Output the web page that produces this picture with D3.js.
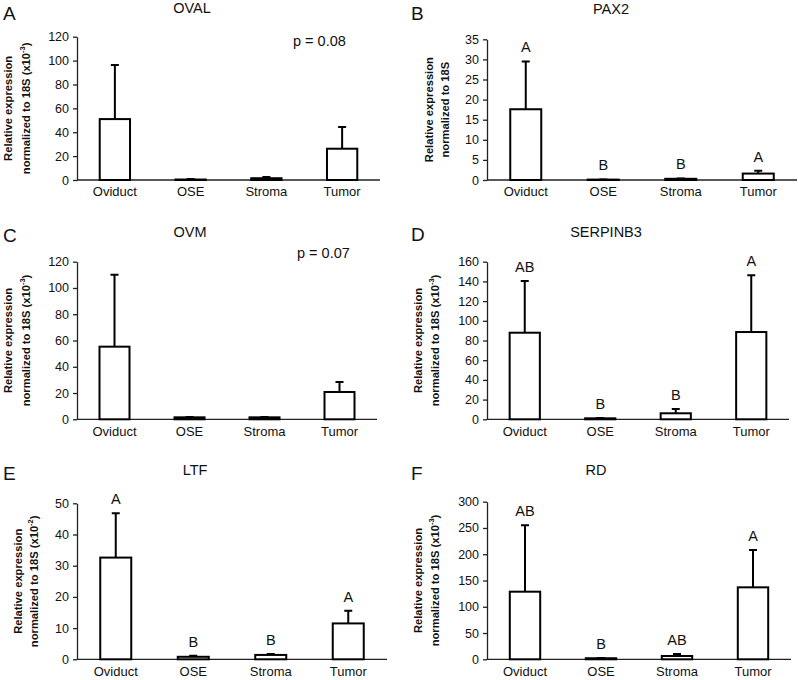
<!DOCTYPE html>
<html>
<head>
<meta charset="utf-8">
<script src="https://cdn.jsdelivr.net/npm/d3@7"></script>
<style>
  html, body { margin: 0; padding: 0; background: #fff; }
  svg { display: block; font-family: "Liberation Sans", Arial, Helvetica, sans-serif; }
</style>
</head>
<body>
<svg id="chart" width="798" height="680"></svg>
<script>
// ---- data ----
const categories = ["Oviduct", "OSE", "Stroma", "Tumor"];
const panelLetters = ["A", "B", "C", "D", "E", "F"];
const genes = ["OVAL", "PAX2", "OVM", "SERPINB3", "LTF", "RD"];
const exponents = ["-3", null, "-3", "-3", "-2", "-3"];
const pValues = ["p = 0.08", null, "p = 0.07", null, null, null];

const ovalMean = [51, 0.4, 1.5, 26.2];
const ovalSem = [45.3, 0.4, 1.0, 18.2];
const pax2Mean = [17.6, 0.1, 0.3, 1.6];
const pax2Sem = [11.9, 0.05, 0.1, 0.7];
const ovmMean = [55.3, 1.5, 1.5, 20.8];
const ovmSem = [54.7, 0.3, 0.3, 7.6];
const serpinb3Mean = [87.9, 1.0, 6.1, 88.6];
const serpinb3Sem = [52.5, 0.3, 4.4, 57.6];
const ltfMean = [32.6, 0.8, 1.4, 11.5];
const ltfSem = [14.2, 0.3, 0.3, 4.1];
const rdMean = [128.7, 2, 6.3, 137];
const rdSem = [126.3, 0.5, 3.7, 71];

const pax2Letters = ["A", "B", "B", "A"];
const serpinb3Letters = ["AB", "B", "B", "A"];
const ltfLetters = ["A", "B", "B", "A"];
const rdLetters = ["AB", "B", "AB", "A"];

const ovalTicks = [0, 20, 40, 60, 80, 100, 120];
const pax2Ticks = [0, 5, 10, 15, 20, 25, 30, 35];
const ovmTicks = [0, 20, 40, 60, 80, 100, 120];
const serpinb3Ticks = [0, 20, 40, 60, 80, 100, 120, 140, 160];
const ltfTicks = [0, 10, 20, 30, 40, 50];
const rdTicks = [0, 50, 100, 150, 200, 250, 300];

const means = [ovalMean, pax2Mean, ovmMean, serpinb3Mean, ltfMean, rdMean];
const sems = [ovalSem, pax2Sem, ovmSem, serpinb3Sem, ltfSem, rdSem];
const sigLetters = [null, pax2Letters, null, serpinb3Letters, ltfLetters, rdLetters];
const ticks = [ovalTicks, pax2Ticks, ovmTicks, serpinb3Ticks, ltfTicks, rdTicks];

// ---- layout (per panel) ----
const layout = [
  { ax: 77,  y0: 180,   yTop: 36.7,  w: 303, titleX: 192, titleY: 12.5, letX: 3,   letY: 20,  pX: 293, pY: 46,  lab1: -65, lab2: -47 },
  { ax: 487, y0: 180,   yTop: 39.3,  w: 310, titleX: 611, titleY: 14,   letX: 411, letY: 20,  pX: 0,   pY: 0,   lab1: -54, lab2: -38 },
  { ax: 77,  y0: 419.3, yTop: 261.7, w: 300, titleX: 190, titleY: 237,  letX: 3,   letY: 241.5, pX: 297, pY: 258, lab1: -65, lab2: -47 },
  { ax: 487, y0: 419.3, yTop: 261.7, w: 302, titleX: 606, titleY: 237,  letX: 411, letY: 241, pX: 0,   pY: 0,   lab1: -65, lab2: -48 },
  { ax: 77,  y0: 659.3, yTop: 503.3, w: 310, titleX: 195, titleY: 475,  letX: 3,   letY: 480, pX: 0,   pY: 0,   lab1: -55, lab2: -39 },
  { ax: 487, y0: 659.3, yTop: 501.7, w: 304, titleX: 596, titleY: 475,  letX: 411, letY: 480, pX: 0,   pY: 0,   lab1: -65, lab2: -48 }
];

const svg = d3.select("#chart");

genes.forEach((gene, i) => {
  const L = layout[i];
  const tk = ticks[i];
  const g = svg.append("g");

  const y = d3.scaleLinear().domain([0, tk[tk.length - 1]]).range([L.y0, L.yTop]);
  const x = d3.scaleBand().domain(categories).range([L.ax, L.ax + L.w])
    .paddingInner(0.6).paddingOuter(0.3);

  // y axis
  const yAxis = d3.axisLeft(y).tickValues(tk).tickSize(4).tickPadding(4).tickSizeOuter(0);
  const ya = g.append("g").attr("transform", `translate(${L.ax},0)`).call(yAxis);
  ya.select(".domain").attr("stroke", "#222").attr("stroke-width", 1.3);
  ya.selectAll(".tick line").attr("stroke", "#222").attr("stroke-width", 1.3);
  ya.selectAll(".tick text").attr("font-size", 12.5).attr("fill", "#111")
    .attr("font-family", "'Liberation Sans', Arial, sans-serif");

  // x axis
  const xAxis = d3.axisBottom(x).tickSize(0).tickPadding(7);
  const xa = g.append("g").attr("transform", `translate(0,${L.y0})`).call(xAxis);
  xa.select(".domain").attr("stroke", "#222").attr("stroke-width", 1.3)
    .attr("d", `M${L.ax},0H${L.ax + L.w}`);
  xa.selectAll(".tick text").attr("font-size", 13).attr("fill", "#111")
    .attr("font-family", "'Liberation Sans', Arial, sans-serif");

  const rows = categories.map((c, k) => ({ c, m: means[i][k], s: sems[i][k], lab: sigLetters[i] ? sigLetters[i][k] : null }));

  // error bars (upper only)
  const cap = 4;
  g.selectAll(".err").data(rows).enter().append("path")
    .attr("d", d => {
      const cx = x(d.c) + x.bandwidth() / 2;
      return `M${cx},${y(d.m)}V${y(d.m + d.s)}M${cx - cap},${y(d.m + d.s)}H${cx + cap}`;
    })
    .attr("stroke", "#000").attr("stroke-width", 2).attr("fill", "none");

  // bars
  g.selectAll(".bar").data(rows).enter().append("rect")
    .attr("x", d => x(d.c))
    .attr("width", x.bandwidth())
    .attr("y", d => y(d.m))
    .attr("height", d => Math.max(0, y(0) - y(d.m)))
    .attr("fill", "#fff").attr("stroke", "#000").attr("stroke-width", 2);

  // significance letters
  g.selectAll(".sig").data(rows.filter(d => d.lab)).enter().append("text")
    .attr("x", d => x(d.c) + x.bandwidth() / 2)
    .attr("y", d => y(d.m + d.s) - 9)
    .attr("text-anchor", "middle").attr("font-size", 14.5).attr("fill", "#111")
    .text(d => d.lab);

  // title
  g.append("text").attr("x", L.titleX).attr("y", L.titleY)
    .attr("text-anchor", "middle").attr("font-size", 14.5).attr("fill", "#111").text(gene);

  // panel letter
  g.append("text").attr("x", L.letX).attr("y", L.letY)
    .attr("font-size", 19).attr("fill", "#111").text(panelLetters[i]);

  // p value
  if (pValues[i]) {
    g.append("text").attr("x", L.pX).attr("y", L.pY)
      .attr("font-size", 14.5).attr("fill", "#111").text(pValues[i]);
  }

  // y label
  const cy = (L.y0 + L.yTop) / 2;
  g.append("text")
    .attr("transform", `translate(${L.ax + L.lab1},${cy}) rotate(-90)`)
    .attr("text-anchor", "middle").attr("font-size", 11.2).attr("font-weight", "bold").attr("fill", "#111")
    .text("Relative expression");
  const t2 = g.append("text")
    .attr("transform", `translate(${L.ax + L.lab2},${cy}) rotate(-90)`)
    .attr("text-anchor", "middle").attr("font-size", 11.2).attr("font-weight", "bold").attr("fill", "#111");
  if (exponents[i]) {
    t2.append("tspan").text("normalized to 18S (x10");
    t2.append("tspan").attr("font-size", 7.5).attr("dy", -5).text(exponents[i]);
    t2.append("tspan").attr("dy", 5).text(")");
  } else {
    t2.text("normalized to 18S");
  }
});
</script>
</body>
</html>
